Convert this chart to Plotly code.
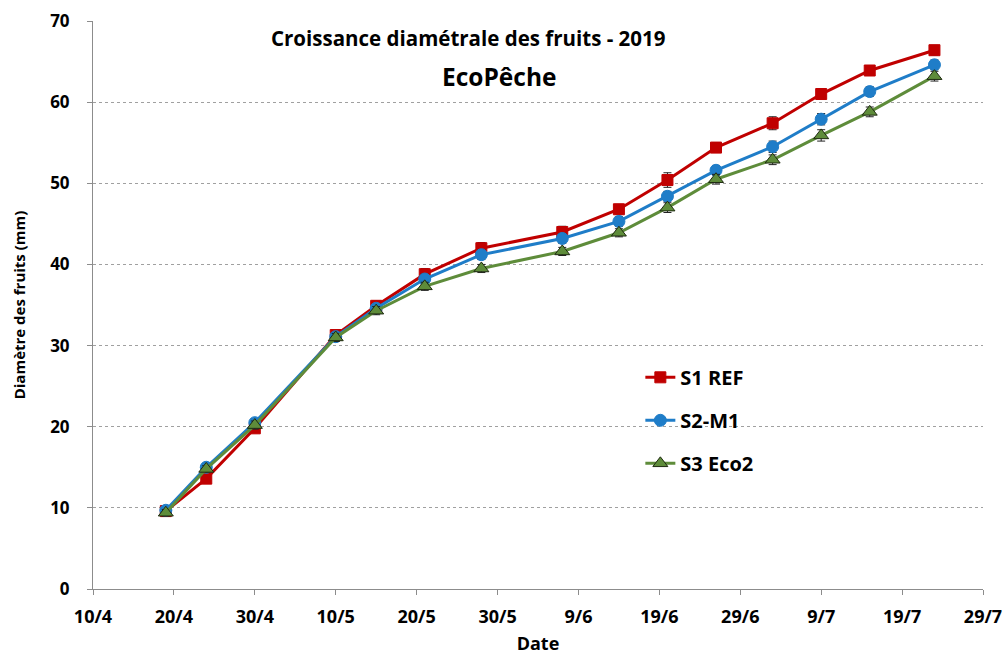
import plotly.graph_objects as go

dates = ["2019-04-19", "2019-04-24", "2019-04-30", "2019-05-10", "2019-05-15",
         "2019-05-21", "2019-05-28", "2019-06-07", "2019-06-14", "2019-06-20",
         "2019-06-26", "2019-07-03", "2019-07-09", "2019-07-15", "2019-07-23"]

s1_ref = [9.6, 13.6, 19.8, 31.3, 34.9, 38.8, 42.0, 44.0, 46.8, 50.4, 54.4, 57.4, 61.0, 63.9, 66.4]
s1_err = [0.4, 0.4, 0.5, 0.5, 0.6, 0.7, 0.7, 0.7, 0.6, 0.9, 0.6, 0.8, 0.6, 0.6, 0.6]
s2_m1 = [9.7, 15.0, 20.5, 31.1, 34.6, 38.2, 41.2, 43.2, 45.3, 48.4, 51.6, 54.5, 57.9, 61.3, 64.6]
s2_err = [0.4, 0.4, 0.5, 0.5, 0.5, 0.6, 0.6, 0.6, 0.6, 0.6, 0.6, 0.7, 0.7, 0.6, 0.6]
s3_eco2 = [9.4, 14.8, 20.2, 31.0, 34.3, 37.3, 39.5, 41.6, 43.9, 47.0, 50.5, 52.9, 55.9, 58.8, 63.2]
s3_err = [0.4, 0.4, 0.5, 0.5, 0.5, 0.5, 0.5, 0.5, 0.5, 0.6, 0.6, 0.6, 0.7, 0.6, 0.6]

tick_dates = ["2019-04-10", "2019-04-20", "2019-04-30", "2019-05-10", "2019-05-20",
              "2019-05-30", "2019-06-09", "2019-06-19", "2019-06-29", "2019-07-09",
              "2019-07-19", "2019-07-29"]
tick_labels = ["10/4", "20/4", "30/4", "10/5", "20/5", "30/5", "9/6", "19/6",
               "29/6", "9/7", "19/7", "29/7"]

FONT = "Open Sans"

series = [
    ("S1 REF", s1_ref, s1_err, "#C00000", "square", 11, "#C00000"),
    ("S2-M1", s2_m1, s2_err, "#1F7DC8", "circle", 12, "#1F7DC8"),
    ("S3 Eco2", s3_eco2, s3_err, "#5E8C3A", "triangle-up", 13, "#1E2A10"),
]

fig = go.Figure()
for i, (name, vals, err, col, sym, size, lc) in enumerate(series):
    fig.add_trace(go.Scatter(
        x=dates, y=vals, name=name, mode="lines+markers",
        legendgroup=name,
        line=dict(color=col, width=3),
        marker=dict(symbol=sym, size=size, color=col, line=dict(color=lc, width=1)),
        error_y=dict(type="data", array=err, visible=True, color="#222222",
                     thickness=1, width=4),
    ))

fig.update_layout(
    width=1006, height=655,
    margin=dict(l=93, r=23, t=21, b=66),
    plot_bgcolor="white", paper_bgcolor="white",
    font=dict(family=FONT, color="#000000"),
    showlegend=True,
    legend=dict(x=0.615, y=0.407, xanchor="left", yanchor="top",
                bgcolor="rgba(255,255,255,0)",
                font=dict(family=FONT, size=20, color="#000000", weight="bold"),
                tracegroupgap=14, itemwidth=30),
    xaxis=dict(
        type="date", automargin=False,
        range=["2019-04-10", "2019-07-29"],
        tickmode="array", tickvals=tick_dates, ticktext=tick_labels,
        showgrid=False, showline=True, linecolor="#8C8C8C", linewidth=1,
        ticks="outside", ticklen=5, tickcolor="#8C8C8C", ticklabelstandoff=6,
        tickfont=dict(family=FONT, size=18, color="#000000", weight="bold"),
        title=dict(text="Date", font=dict(family=FONT, size=18, color="#000000", weight="bold"),
                   standoff=12),
        zeroline=False,
    ),
    yaxis=dict(
        range=[0, 70], tickvals=[0, 10, 20, 30, 40, 50, 60, 70], automargin=False,
        showgrid=True, gridcolor="#A0A0A0", griddash="dot", gridwidth=1,
        showline=True, linecolor="#8C8C8C", linewidth=1,
        ticks="outside", ticklen=5, tickcolor="#8C8C8C", ticklabelstandoff=14,
        tickfont=dict(family=FONT, size=17, color="#000000", weight="bold"),
        title=dict(text="Diamètre des fruits (mm)",
                   font=dict(family=FONT, size=15, color="#000000", weight="bold"),
                   standoff=20),
        zeroline=False,
    ),
    annotations=[
        dict(text="Croissance diamétrale des fruits - 2019", xref="paper", yref="paper",
             x=0.421, y=0.970, xanchor="center", yanchor="middle", showarrow=False,
             font=dict(family=FONT, size=20.5, color="#000000", weight="bold")),
        dict(text="EcoPêche", xref="paper", yref="paper",
             x=0.457, y=0.903, xanchor="center", yanchor="middle", showarrow=False,
             font=dict(family=FONT, size=24.5, color="#000000", weight="bold")),
    ],
)

fig.write_html(
    "out.html",
    config={"displayModeBar": False},
    post_script="document.body.style.margin='0';document.body.style.overflow='hidden';",
)
